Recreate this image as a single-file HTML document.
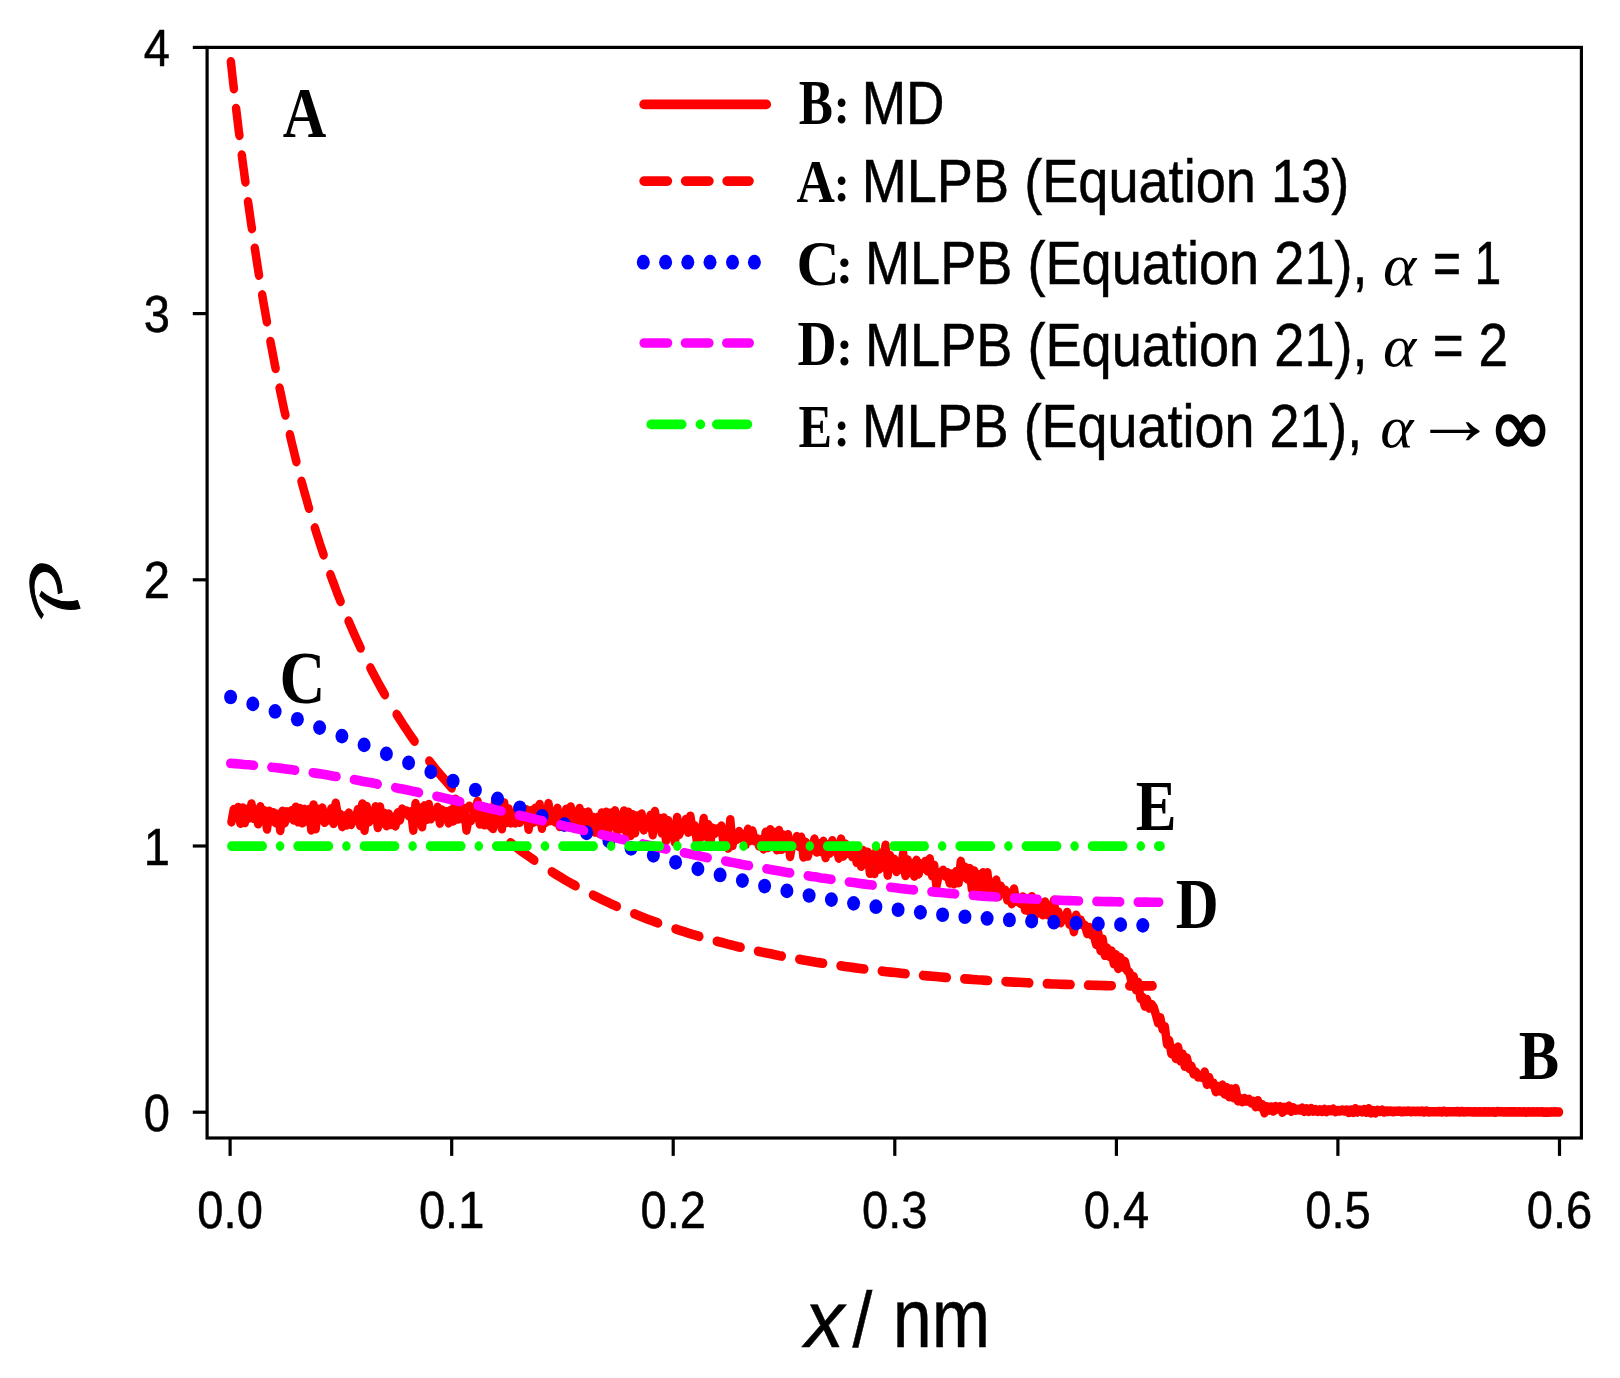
<!DOCTYPE html>
<html><head><meta charset="utf-8"><title>P(x) profile</title>
<style>html,body{margin:0;padding:0;background:#fff}svg{display:block}text{font-kerning:none;fill:#000}</style></head><body>
<svg width="1620" height="1378" viewBox="0 0 1620 1378">
<rect width="1620" height="1378" fill="#fff"/>
<g transform="scale(1,1.13)" fill="none" stroke-width="8.50" stroke-linecap="round" stroke-linejoin="round">
<polyline points="231.5,727.3 233.7,716.5 235.9,717.5 238.2,714.6 240.4,728.5 242.6,715.0 244.8,727.9 247.0,716.2 249.2,723.9 251.5,711.5 253.7,724.1 255.9,718.8 258.1,729.0 260.3,714.0 262.5,723.7 264.8,717.6 267.0,733.6 269.2,717.9 271.4,726.3 273.6,719.3 275.8,728.0 278.1,720.6 280.3,734.9 282.5,718.0 284.7,728.2 286.9,718.5 289.1,723.8 291.4,717.5 293.6,725.5 295.8,714.4 298.0,727.2 300.2,715.6 302.4,728.1 304.7,716.3 306.9,726.5 309.1,716.4 311.3,734.4 313.5,712.4 315.7,733.3 318.0,716.2 320.2,721.5 322.4,715.0 324.6,727.7 326.8,720.3 329.0,725.5 331.3,715.8 333.5,728.6 335.7,710.8 337.9,721.5 340.1,720.7 342.3,731.5 344.6,722.1 346.8,730.0 349.0,719.6 351.2,729.6 353.4,722.4 355.6,725.9 357.9,716.4 360.1,730.4 362.3,711.5 364.5,734.7 366.7,713.7 368.9,727.2 371.2,725.0 373.4,723.9 375.6,714.0 377.8,732.2 380.0,714.1 382.2,728.2 384.5,719.7 386.7,730.8 388.9,720.5 391.1,729.5 393.3,723.2 395.5,730.9 397.8,719.4 400.0,725.7 402.2,716.0 404.4,719.6 406.6,717.8 408.8,721.9 411.1,718.3 413.3,734.6 415.5,711.2 417.7,724.5 419.9,715.1 422.1,731.6 424.4,713.2 426.6,725.1 428.8,712.0 431.0,724.5 433.2,719.4 435.4,722.1 437.7,714.4 439.9,728.4 442.1,716.9 444.3,722.5 446.5,718.2 448.7,728.2 451.0,717.0 453.2,726.4 455.4,707.4 457.6,724.7 459.8,716.4 462.0,724.5 464.3,715.5 466.5,734.6 468.7,724.1 470.9,726.2 473.1,722.4 475.3,716.6 477.6,709.2 479.8,729.1 482.0,714.3 484.2,729.9 486.4,717.6 488.6,724.4 490.9,719.2 493.1,726.5 495.3,707.4 497.5,728.9 499.7,715.8 501.9,733.4 504.2,710.7 506.4,727.8 508.6,715.8 510.8,728.2 513.0,720.2 515.3,728.2 517.5,714.7 519.7,727.7 521.9,718.7 524.1,722.7 526.3,716.6 528.6,733.9 530.8,717.6 533.0,727.8 535.2,715.4 537.4,726.7 539.6,712.0 541.9,732.9 544.1,718.8 546.3,727.6 548.5,711.2 550.7,726.2 552.9,718.8 555.2,727.4 557.4,715.4 559.6,731.3 561.8,721.4 564.0,725.4 566.2,716.3 568.5,724.9 570.7,714.2 572.9,731.9 575.1,718.6 577.3,732.0 579.5,715.5 581.8,724.8 584.0,719.3 586.2,729.4 588.4,718.7 590.6,729.0 592.8,723.2 595.1,736.3 597.3,723.6 599.5,737.5 601.7,719.5 603.9,733.8 606.1,718.8 608.4,734.5 610.6,719.8 612.8,730.3 615.0,717.6 617.2,734.7 619.4,721.9 621.7,733.1 623.9,717.8 626.1,735.8 628.3,718.8 630.5,739.3 632.7,721.1 635.0,736.9 637.2,722.1 639.4,730.1 641.6,720.3 643.8,734.4 646.0,729.2 648.3,730.9 650.5,721.5 652.7,738.6 654.9,718.2 657.1,732.3 659.3,724.3 661.6,736.9 663.8,723.9 666.0,743.7 668.2,726.3 670.4,737.9 672.6,734.6 674.9,745.3 677.1,723.5 679.3,738.4 681.5,732.7 683.7,732.9 685.9,725.2 688.2,736.4 690.4,722.3 692.6,735.3 694.8,730.8 697.0,745.4 699.2,735.8 701.5,740.4 703.7,724.4 705.9,740.0 708.1,729.8 710.3,745.7 712.5,732.9 714.8,737.4 717.0,733.7 719.2,735.3 721.4,731.0 723.6,747.1 725.8,736.3 728.1,750.5 730.3,725.4 732.5,748.1 734.7,738.3 736.9,742.6 739.1,735.9 741.4,741.6 743.6,738.5 745.8,747.1 748.0,733.9 750.2,743.8 752.4,735.4 754.7,744.0 756.9,742.3 759.1,748.6 761.3,743.0 763.5,751.2 765.7,736.5 768.0,750.0 770.2,734.3 772.4,747.6 774.6,736.7 776.8,751.9 779.0,735.0 781.3,751.6 783.5,739.1 785.7,750.2 787.9,738.7 790.1,757.9 792.4,745.2 794.6,748.1 796.8,740.4 799.0,749.0 801.2,740.9 803.4,758.3 805.7,745.5 807.9,757.5 810.1,749.2 812.3,750.5 814.5,742.6 816.7,754.0 819.0,746.8 821.2,753.4 823.4,744.6 825.6,758.9 827.8,747.6 830.0,754.9 832.3,744.0 834.5,750.1 836.7,751.5 838.9,759.4 841.1,742.6 843.3,757.5 845.6,747.1 847.8,755.1 850.0,749.6 852.2,758.0 854.4,749.4 856.6,763.1 858.9,753.6 861.1,766.5 863.3,752.8 865.5,764.3 867.7,754.3 869.9,772.8 872.2,756.6 874.4,772.9 876.6,752.5 878.8,769.1 881.0,758.2 883.2,767.3 885.5,748.0 887.7,774.4 889.9,757.0 892.1,767.8 894.3,760.4 896.5,771.2 898.8,762.6 901.0,769.2 903.2,755.3 905.4,774.8 907.6,761.1 909.8,772.0 912.1,764.4 914.3,775.3 916.5,761.4 918.7,773.4 920.9,764.7 923.1,768.3 925.4,762.4 927.6,770.7 929.8,760.1 932.0,774.9 934.2,765.8 936.4,784.2 938.7,774.2 940.9,772.5 943.1,770.2 945.3,775.2 947.5,772.4 949.7,781.4 952.0,773.5 954.2,782.1 956.4,771.3 958.6,781.1 960.8,762.3 963.0,775.9 965.3,767.6 967.5,777.9 969.7,768.7 971.9,786.8 974.1,770.8 976.3,788.3 978.6,774.0 980.8,790.0 983.0,772.4 985.2,789.1 987.4,772.4 989.6,790.3 991.9,783.4 994.1,783.9 996.3,778.9 998.5,793.3 1000.7,784.2 1002.9,790.3 1005.2,787.9 1007.4,796.4 1009.6,790.5 1011.8,799.7 1014.0,786.8 1016.2,797.5 1018.5,797.8 1020.7,799.4 1022.9,793.8 1025.1,805.2 1027.3,799.1 1029.5,806.7 1031.8,793.6 1034.0,812.7 1036.2,798.5 1038.4,807.6 1040.6,799.9 1042.8,809.5 1045.1,798.2 1047.3,809.5 1049.5,807.7 1051.7,808.2 1053.9,796.8 1056.1,814.5 1058.4,807.1 1060.6,816.6 1062.8,811.6 1065.0,813.4 1067.2,807.5 1069.5,817.9 1071.7,814.6 1073.9,824.5 1076.1,809.9 1078.3,816.2 1080.5,814.1 1082.8,818.4 1085.0,819.0 1087.2,826.0 1089.4,820.8 1091.6,827.2 1093.8,827.4 1096.1,835.7 1098.3,825.6 1100.5,841.1 1102.7,831.1 1104.9,845.4 1107.1,839.0 1109.4,846.3 1111.6,841.7 1113.8,852.8 1116.0,845.0 1118.2,857.0 1120.4,847.4 1122.7,855.6 1124.9,851.0 1127.1,858.8 1129.3,860.5 1131.5,868.5 1133.7,864.3 1136.0,875.8 1138.2,869.3 1140.4,883.5 1142.6,882.7 1144.8,890.3 1147.0,884.6 1149.3,892.0 1151.5,888.9 1153.7,891.5 1155.9,897.9 1158.1,905.1 1160.3,900.7 1162.6,910.8 1164.8,908.6 1167.0,924.0 1169.2,920.9 1171.4,932.4 1173.6,928.0 1175.9,936.7 1178.1,926.7 1180.3,938.7 1182.5,932.8 1184.7,943.5 1186.9,936.3 1189.2,945.4 1191.4,943.6 1193.6,950.3 1195.8,948.7 1198.0,953.0 1200.2,952.7 1202.5,953.6 1204.7,948.7 1206.9,959.6 1209.1,953.5 1211.3,959.2 1213.5,958.7 1215.8,966.0 1218.0,961.6 1220.2,965.4 1222.4,960.3 1224.6,968.0 1226.8,962.5 1229.1,970.5 1231.3,963.8 1233.5,971.3 1235.7,963.4 1237.9,974.2 1240.1,972.2 1242.4,975.0 1244.6,972.1 1246.8,974.3 1249.0,973.0 1251.2,975.9 1253.4,974.6 1255.7,979.4 1257.9,974.1 1260.1,979.4 1262.3,977.7 1264.5,984.7 1266.7,979.4 1269.0,982.4 1271.2,979.6 1273.4,983.2 1275.6,979.3 1277.8,981.2 1280.0,979.5 1282.3,984.3 1284.5,979.9 1286.7,982.2 1288.9,978.9 1291.1,983.4 1293.3,980.4 1295.6,982.4 1297.8,981.7 1300.0,982.3 1302.2,980.8 1304.4,983.5 1306.6,981.5 1308.9,983.5 1311.1,981.1 1313.3,983.3 1315.5,982.0 1317.7,983.5 1319.9,982.1 1322.2,983.6 1324.4,981.9 1326.6,983.7 1328.8,982.2 1331.0,982.9 1333.2,981.6 1335.5,983.7 1337.7,982.8 1339.9,983.2 1342.1,982.4 1344.3,983.2 1346.6,982.3 1348.8,984.5 1351.0,982.3 1353.2,984.4 1355.4,981.2 1357.6,984.0 1359.9,982.4 1362.1,983.9 1364.3,981.8 1366.5,984.3 1368.7,981.3 1370.9,984.8 1373.2,982.9 1375.4,984.8 1377.6,982.6 1379.8,983.6 1382.0,982.5 1384.2,984.1 1386.5,983.2 1388.7,983.6 1390.9,983.2 1393.1,983.8 1395.3,983.4 1397.5,983.4 1399.8,983.2 1402.0,983.9 1404.2,983.4 1406.4,983.6 1408.6,983.2 1410.8,983.8 1413.1,983.4 1415.3,983.7 1417.5,983.4 1419.7,983.7 1421.9,983.3 1424.1,984.1 1426.4,983.3 1428.6,984.0 1430.8,983.8 1433.0,983.9 1435.2,983.9 1437.4,983.9 1439.7,983.7 1441.9,984.0 1444.1,983.4 1446.3,984.1 1448.5,983.8 1450.7,983.9 1453.0,983.8 1455.2,983.9 1457.4,983.6 1459.6,984.1 1461.8,983.7 1464.0,984.1 1466.3,983.9 1468.5,983.9 1470.7,983.8 1472.9,984.0 1475.1,984.0 1477.3,984.1 1479.6,983.8 1481.8,984.1 1484.0,984.0 1486.2,984.0 1488.4,983.8 1490.6,984.1 1492.9,983.9 1495.1,984.3 1497.3,983.7 1499.5,983.9 1501.7,983.8 1503.9,984.1 1506.2,983.8 1508.4,984.0 1510.6,983.9 1512.8,984.0 1515.0,984.0 1517.2,984.1 1519.5,983.9 1521.7,984.1 1523.9,983.9 1526.1,984.2 1528.3,983.9 1530.5,984.1 1532.8,984.0 1535.0,984.1 1537.2,984.0 1539.4,984.1 1541.6,983.9 1543.8,984.2 1546.1,984.0 1548.3,984.2 1550.5,984.0 1552.7,984.1 1554.9,984.0 1557.1,984.1 1559.0,984.1" stroke="#ff0000"/>
<path d="M230.9,54.7 L231.5,59.7 L232.1,64.6 L232.7,69.5 L233.3,74.3 L233.9,78.5 M236.1,96.0 L237.0,102.5 L237.6,107.0 L238.2,111.5 L238.8,116.0 L239.4,119.8 M241.8,137.2 L242.5,142.0 L243.1,146.3 L243.8,150.4 L244.4,154.6 L245.0,158.7 L245.4,161.0 M248.0,178.5 L248.7,182.6 L249.9,190.3 L251.1,197.9 L251.9,202.3 M254.8,219.7 L256.1,227.0 L257.3,234.0 L258.5,240.9 L259.0,243.5 M262.2,261.0 L263.4,267.4 L264.7,273.7 L265.9,280.0 L266.9,284.8 M270.4,302.2 L271.4,306.9 L272.7,312.7 L273.9,318.3 L275.1,323.9 L275.6,326.0 M279.6,343.5 L280.7,348.0 L281.9,353.1 L283.1,358.2 L284.3,363.2 L285.4,367.3 M289.9,384.7 L291.1,389.4 L292.3,393.9 L293.6,398.4 L294.8,402.8 L296.0,407.2 L296.4,408.5 M301.5,426.0 L302.8,430.1 L304.6,436.1 L306.5,441.9 L308.3,447.7 L309.0,449.8 M314.9,467.2 L316.3,471.3 L318.2,476.4 L320.0,481.5 L321.9,486.5 L323.6,491.0 M330.4,508.5 L332.3,513.1 L334.2,517.5 L336.0,521.9 L337.8,526.2 L339.7,530.4 L340.6,532.3 M348.6,549.7 L350.8,554.1 L353.2,559.1 L355.7,564.0 L358.1,568.7 L360.6,573.4 L360.7,573.5 M370.4,591.0 L372.9,595.4 L375.4,599.5 L377.8,603.5 L380.9,608.5 L384.0,613.4 L384.9,614.8 M396.7,632.2 L400.0,636.8 L403.0,641.0 L406.1,645.1 L409.2,649.2 L412.9,653.9 L414.6,656.0 M429.3,673.5 L433.2,677.8 L436.8,681.9 L441.1,686.4 L445.5,690.9 L449.8,695.2 L451.8,697.3 M469.3,713.5 L473.7,717.4 L478.0,721.0 L482.3,724.6 L486.7,728.0 L491.0,731.4 L493.1,733.1 M510.5,745.8 L514.9,748.8 L519.2,751.7 L523.5,754.6 L527.9,757.3 L532.2,760.0 L534.3,761.3 M551.8,771.5 L556.1,773.9 L560.4,776.2 L564.7,778.5 L569.1,780.7 L573.4,782.8 L575.6,783.9 M593.0,792.1 L597.3,794.0 L601.6,795.9 L605.9,797.7 L610.2,799.5 L614.6,801.2 L616.8,802.1 M634.3,808.7 L638.5,810.2 L642.8,811.7 L647.1,813.2 L651.4,814.6 L655.8,816.0 L658.1,816.8 M675.5,822.1 L679.7,823.3 L684.0,824.5 L688.3,825.7 L692.6,826.9 L697.0,828.0 L699.3,828.7 M716.8,833.0 L720.9,833.9 L725.2,834.9 L729.5,835.9 L733.8,836.8 L738.1,837.8 L740.6,838.3 M758.0,841.8 L762.1,842.6 L766.4,843.4 L770.7,844.1 L775.0,844.9 L779.3,845.7 L781.8,846.1 M799.3,848.9 L803.3,849.6 L807.6,850.2 L811.9,850.8 L816.2,851.5 L820.5,852.1 L823.1,852.4 M840.5,854.7 L845.1,855.3 L849.4,855.8 L853.8,856.3 L858.1,856.8 L862.4,857.3 L864.3,857.5 M881.8,859.4 L886.3,859.9 L890.6,860.3 L895.0,860.7 L899.3,861.1 L903.6,861.5 L905.6,861.7 M923.0,863.2 L927.5,863.6 L931.8,863.9 L936.1,864.2 L940.5,864.6 L944.8,864.9 L946.8,865.0 M964.3,866.3 L968.7,866.5 L973.0,866.8 L977.3,867.1 L981.7,867.3 L986.0,867.6 L988.1,867.7 M1005.5,868.7 L1009.9,868.9 L1014.2,869.1 L1018.5,869.3 L1022.9,869.5 L1027.2,869.7 L1029.3,869.8 M1046.8,870.5 L1051.1,870.7 L1055.4,870.8 L1059.7,871.0 L1064.1,871.1 L1068.4,871.3 L1070.6,871.3 M1088.0,871.8 L1092.3,871.9 L1096.6,872.0 L1100.9,872.1 L1105.2,872.2 L1109.6,872.3 L1111.8,872.3 M1129.3,872.5 L1133.5,872.5 L1137.8,872.5 L1142.1,872.5 L1146.4,872.5 L1150.8,872.5 L1152.6,872.5" stroke="#ff0000"/>
<ellipse cx="230.6" cy="616.8" rx="6.5" ry="6.5" fill="#0000ff"/>
<ellipse cx="252.8" cy="622.9" rx="6.5" ry="6.5" fill="#0000ff"/>
<ellipse cx="275.1" cy="629.6" rx="6.5" ry="6.5" fill="#0000ff"/>
<ellipse cx="297.4" cy="636.5" rx="6.5" ry="6.5" fill="#0000ff"/>
<ellipse cx="319.6" cy="643.9" rx="6.5" ry="6.5" fill="#0000ff"/>
<ellipse cx="341.9" cy="651.4" rx="6.5" ry="6.5" fill="#0000ff"/>
<ellipse cx="364.1" cy="659.2" rx="6.5" ry="6.5" fill="#0000ff"/>
<ellipse cx="386.4" cy="667.1" rx="6.5" ry="6.5" fill="#0000ff"/>
<ellipse cx="408.6" cy="675.1" rx="6.5" ry="6.5" fill="#0000ff"/>
<ellipse cx="430.9" cy="683.1" rx="6.5" ry="6.5" fill="#0000ff"/>
<ellipse cx="453.1" cy="691.2" rx="6.5" ry="6.5" fill="#0000ff"/>
<ellipse cx="475.4" cy="699.1" rx="6.5" ry="6.5" fill="#0000ff"/>
<ellipse cx="497.6" cy="707.0" rx="6.5" ry="6.5" fill="#0000ff"/>
<ellipse cx="519.9" cy="714.8" rx="6.5" ry="6.5" fill="#0000ff"/>
<ellipse cx="542.1" cy="722.4" rx="6.5" ry="6.5" fill="#0000ff"/>
<ellipse cx="564.4" cy="729.8" rx="6.5" ry="6.5" fill="#0000ff"/>
<ellipse cx="586.6" cy="737.0" rx="6.5" ry="6.5" fill="#0000ff"/>
<ellipse cx="608.9" cy="744.0" rx="6.5" ry="6.5" fill="#0000ff"/>
<ellipse cx="631.1" cy="750.7" rx="6.5" ry="6.5" fill="#0000ff"/>
<ellipse cx="653.4" cy="757.0" rx="6.5" ry="6.5" fill="#0000ff"/>
<ellipse cx="675.6" cy="763.1" rx="6.5" ry="6.5" fill="#0000ff"/>
<ellipse cx="697.9" cy="768.9" rx="6.5" ry="6.5" fill="#0000ff"/>
<ellipse cx="720.1" cy="774.3" rx="6.5" ry="6.5" fill="#0000ff"/>
<ellipse cx="742.4" cy="779.3" rx="6.5" ry="6.5" fill="#0000ff"/>
<ellipse cx="764.6" cy="784.1" rx="6.5" ry="6.5" fill="#0000ff"/>
<ellipse cx="786.9" cy="788.4" rx="6.5" ry="6.5" fill="#0000ff"/>
<ellipse cx="809.1" cy="792.5" rx="6.5" ry="6.5" fill="#0000ff"/>
<ellipse cx="831.4" cy="796.1" rx="6.5" ry="6.5" fill="#0000ff"/>
<ellipse cx="853.6" cy="799.4" rx="6.5" ry="6.5" fill="#0000ff"/>
<ellipse cx="875.9" cy="802.4" rx="6.5" ry="6.5" fill="#0000ff"/>
<ellipse cx="898.1" cy="805.1" rx="6.5" ry="6.5" fill="#0000ff"/>
<ellipse cx="920.4" cy="807.4" rx="6.5" ry="6.5" fill="#0000ff"/>
<ellipse cx="942.6" cy="809.5" rx="6.5" ry="6.5" fill="#0000ff"/>
<ellipse cx="964.9" cy="811.3" rx="6.5" ry="6.5" fill="#0000ff"/>
<ellipse cx="987.1" cy="812.8" rx="6.5" ry="6.5" fill="#0000ff"/>
<ellipse cx="1009.4" cy="814.1" rx="6.5" ry="6.5" fill="#0000ff"/>
<ellipse cx="1031.6" cy="815.2" rx="6.5" ry="6.5" fill="#0000ff"/>
<ellipse cx="1053.8" cy="816.1" rx="6.5" ry="6.5" fill="#0000ff"/>
<ellipse cx="1076.1" cy="816.9" rx="6.5" ry="6.5" fill="#0000ff"/>
<ellipse cx="1098.3" cy="817.6" rx="6.5" ry="6.5" fill="#0000ff"/>
<ellipse cx="1120.6" cy="818.3" rx="6.5" ry="6.5" fill="#0000ff"/>
<ellipse cx="1142.8" cy="818.9" rx="6.5" ry="6.5" fill="#0000ff"/>
<path d="M230.2,675.5 L234.8,675.8 L239.5,676.1 L244.1,676.5 L248.8,676.8 L253.5,677.2 L254.0,677.3 M271.4,678.9 L276.7,679.5 L281.4,680.0 L286.0,680.5 L290.7,681.0 L295.2,681.6 M312.7,683.8 L317.0,684.4 L321.7,685.0 L326.3,685.7 L331.0,686.4 L335.7,687.1 L336.5,687.2 M353.9,689.9 L358.9,690.7 L363.6,691.5 L368.2,692.2 L372.9,693.0 L377.5,693.8 L377.7,693.9 M395.2,697.0 L399.2,697.7 L403.9,698.5 L408.6,699.4 L413.2,700.3 L417.9,701.1 L419.0,701.4 M436.4,704.7 L441.1,705.6 L445.8,706.5 L450.4,707.5 L455.1,708.4 L459.7,709.3 L460.2,709.4 M477.7,712.9 L483.0,714.0 L487.7,715.0 L492.3,715.9 L497.0,716.9 L501.5,717.8 M518.9,721.5 L523.3,722.4 L528.0,723.3 L532.6,724.3 L537.3,725.3 L541.9,726.2 L542.7,726.4 M560.2,730.0 L565.2,731.1 L569.9,732.0 L574.5,733.0 L579.2,734.0 L583.8,734.9 L584.0,735.0 M601.4,738.5 L605.5,739.4 L610.2,740.3 L614.8,741.2 L619.5,742.2 L624.1,743.1 L625.2,743.3 M642.7,746.8 L647.4,747.7 L652.1,748.6 L656.7,749.5 L661.4,750.4 L666.0,751.3 L666.5,751.4 M683.9,754.7 L689.3,755.6 L693.9,756.5 L698.6,757.3 L703.2,758.2 L707.7,759.0 M725.2,762.0 L729.6,762.8 L734.3,763.6 L738.9,764.4 L743.6,765.2 L748.2,765.9 L749.0,766.0 M766.4,768.9 L771.5,769.6 L776.1,770.4 L780.8,771.1 L785.5,771.8 L790.1,772.5 L790.2,772.5 M807.7,775.0 L811.8,775.6 L816.5,776.2 L821.1,776.9 L825.8,777.5 L830.4,778.1 L831.5,778.2 M848.9,780.5 L853.7,781.0 L858.3,781.6 L863.0,782.2 L867.7,782.7 L872.3,783.2 L872.7,783.3 M890.2,785.2 L895.6,785.7 L900.2,786.2 L904.9,786.7 L909.5,787.1 L914.0,787.5 M931.4,789.1 L935.9,789.5 L940.6,789.9 L945.2,790.3 L949.9,790.6 L954.5,791.0 L955.2,791.1 M972.7,792.3 L977.8,792.7 L982.4,793.0 L987.1,793.3 L991.7,793.5 L996.4,793.8 L996.5,793.8 M1013.9,794.8 L1018.1,795.0 L1022.8,795.2 L1027.4,795.4 L1032.1,795.6 L1036.7,795.8 L1037.7,795.9 M1055.2,796.5 L1060.0,796.7 L1064.6,796.9 L1069.3,797.0 L1073.9,797.1 L1078.6,797.3 L1079.0,797.3 M1096.4,797.7 L1101.9,797.8 L1106.5,797.9 L1111.2,797.9 L1115.8,798.0 L1120.2,798.1 M1137.7,798.3 L1142.2,798.3 L1146.8,798.3 L1151.5,798.4 L1156.1,798.4 L1159.2,798.4" stroke="#ff00ff"/>
<path d="M231.4,748.8 L236.1,748.8 L240.7,748.8 L245.4,748.8 L250.0,748.8 L254.7,748.8 L259.3,748.8 L262.7,748.8 M280.1,748.8h0.01 M297.6,748.8 L303.6,748.8 L308.3,748.8 L312.9,748.8 L317.6,748.8 L322.2,748.8 L326.9,748.8 L328.9,748.8 M346.4,748.8h0.01 M363.8,748.8 L368.8,748.8 L373.5,748.8 L378.1,748.8 L382.8,748.8 L387.4,748.8 L392.1,748.8 L395.1,748.8 M412.6,748.8h0.01 M430.0,748.8 L434.0,748.8 L438.7,748.8 L443.3,748.8 L448.0,748.8 L452.6,748.8 L457.3,748.8 L461.3,748.8 M478.8,748.8h0.01 M496.2,748.8 L501.5,748.8 L506.2,748.8 L510.9,748.8 L515.5,748.8 L520.2,748.8 L524.8,748.8 L527.5,748.8 M545.0,748.8h0.01 M562.4,748.8 L566.8,748.8 L571.4,748.8 L576.1,748.8 L580.7,748.8 L585.4,748.8 L590.0,748.8 L593.7,748.8 M611.1,748.8h0.01 M628.6,748.8 L634.3,748.8 L638.9,748.8 L643.6,748.8 L648.3,748.8 L652.9,748.8 L657.6,748.8 L659.9,748.8 M677.3,748.8h0.01 M694.8,748.8 L699.5,748.8 L704.2,748.8 L708.8,748.8 L713.5,748.8 L718.1,748.8 L722.8,748.8 L726.1,748.8 M743.5,748.8h0.01 M761.0,748.8 L767.0,748.8 L771.7,748.8 L776.3,748.8 L781.0,748.8 L785.7,748.8 L790.3,748.8 L792.3,748.8 M809.8,748.8h0.01 M827.2,748.8 L832.2,748.8 L836.9,748.8 L841.6,748.8 L846.2,748.8 L850.9,748.8 L855.5,748.8 L858.5,748.8 M876.0,748.8h0.01 M893.4,748.8 L897.4,748.8 L902.1,748.8 L906.8,748.8 L911.4,748.8 L916.1,748.8 L920.7,748.8 L924.7,748.8 M942.2,748.8h0.01 M959.6,748.8 L965.0,748.8 L969.6,748.8 L974.3,748.8 L979.0,748.8 L983.6,748.8 L988.3,748.8 L990.9,748.8 M1008.4,748.8h0.01 M1025.8,748.8 L1030.2,748.8 L1034.8,748.8 L1039.5,748.8 L1044.2,748.8 L1048.8,748.8 L1053.5,748.8 L1057.1,748.8 M1074.6,748.8h0.01 M1092.0,748.8 L1097.7,748.8 L1102.4,748.8 L1107.0,748.8 L1111.7,748.8 L1116.4,748.8 L1121.0,748.8 L1123.3,748.8 M1140.8,748.8h0.01 M1158.2,748.8 L1160.6,748.8" stroke="#00ff00"/>
</g>
<g stroke="#000" stroke-width="3.2" fill="none">
<rect x="207.1" y="47.4" width="1374.3" height="1090.6"/>
<path d="M192.8,1112.2 H207.1"/>
<path d="M192.8,846.0 H207.1"/>
<path d="M192.8,579.8 H207.1"/>
<path d="M192.8,313.6 H207.1"/>
<path d="M192.8,47.4 H207.1"/>
<path d="M230.1,1138 V1155.9"/>
<path d="M451.7,1138 V1155.9"/>
<path d="M673.2,1138 V1155.9"/>
<path d="M894.8,1138 V1155.9"/>
<path d="M1116.4,1138 V1155.9"/>
<path d="M1337.9,1138 V1155.9"/>
<path d="M1559.5,1138 V1155.9"/>
</g>
<text transform="translate(170.0,1130.70) scale(0.906,1)" text-anchor="end" font-family="'Liberation Sans',sans-serif" font-size="52" stroke="#000" stroke-width="0.5">0</text>
<text transform="translate(170.0,864.50) scale(0.906,1)" text-anchor="end" font-family="'Liberation Sans',sans-serif" font-size="52" stroke="#000" stroke-width="0.5">1</text>
<text transform="translate(170.0,598.30) scale(0.906,1)" text-anchor="end" font-family="'Liberation Sans',sans-serif" font-size="52" stroke="#000" stroke-width="0.5">2</text>
<text transform="translate(170.0,332.10) scale(0.906,1)" text-anchor="end" font-family="'Liberation Sans',sans-serif" font-size="52" stroke="#000" stroke-width="0.5">3</text>
<text transform="translate(170.0,65.90) scale(0.906,1)" text-anchor="end" font-family="'Liberation Sans',sans-serif" font-size="52" stroke="#000" stroke-width="0.5">4</text>
<text transform="translate(197.35,1228.3) scale(0.906,1)" font-family="'Liberation Sans',sans-serif" font-size="52" stroke="#000" stroke-width="0.5">0.0</text>
<text transform="translate(418.92,1228.3) scale(0.906,1)" font-family="'Liberation Sans',sans-serif" font-size="52" stroke="#000" stroke-width="0.5">0.1</text>
<text transform="translate(640.49,1228.3) scale(0.906,1)" font-family="'Liberation Sans',sans-serif" font-size="52" stroke="#000" stroke-width="0.5">0.2</text>
<text transform="translate(862.06,1228.3) scale(0.906,1)" font-family="'Liberation Sans',sans-serif" font-size="52" stroke="#000" stroke-width="0.5">0.3</text>
<text transform="translate(1083.63,1228.3) scale(0.906,1)" font-family="'Liberation Sans',sans-serif" font-size="52" stroke="#000" stroke-width="0.5">0.4</text>
<text transform="translate(1305.20,1228.3) scale(0.906,1)" font-family="'Liberation Sans',sans-serif" font-size="52" stroke="#000" stroke-width="0.5">0.5</text>
<text transform="translate(1526.77,1228.3) scale(0.906,1)" font-family="'Liberation Sans',sans-serif" font-size="52" stroke="#000" stroke-width="0.5">0.6</text>
<g fill="none" stroke-width="9.6" stroke-linecap="round">
<path d="M644.1,104.4 H766.3" stroke="#ff0000"/>
<path d="M644.1,181.1 H749" stroke="#ff0000" stroke-dasharray="23.3 18.2"/>
<path d="M644.2,343 H749.2" stroke="#ff00ff" stroke-dasharray="23.3 18"/>
<path d="M651.2,424.4 H747.4" stroke="#00ff00" stroke-dasharray="30.6 18.6 0 16.4"/>
</g>
<ellipse cx="643.3" cy="262.2" rx="6.5" ry="7.4" fill="#0000ff"/>
<ellipse cx="665.6" cy="262.2" rx="6.5" ry="7.4" fill="#0000ff"/>
<ellipse cx="687.8" cy="262.2" rx="6.5" ry="7.4" fill="#0000ff"/>
<ellipse cx="710" cy="262.2" rx="6.5" ry="7.4" fill="#0000ff"/>
<ellipse cx="732.5" cy="262.2" rx="6.5" ry="7.4" fill="#0000ff"/>
<ellipse cx="754.4" cy="262.2" rx="6.5" ry="7.4" fill="#0000ff"/>
<text transform="translate(798.75,123.52) scale(0.8180,1)" font-family="'Liberation Serif',serif" font-weight="bold" font-size="62.64" >B</text>
<text transform="translate(796.38,202.10) scale(0.8564,1)" font-family="'Liberation Serif',serif" font-weight="bold" font-size="62.11" >A</text>
<text transform="translate(796.49,284.59) scale(0.9491,1)" font-family="'Liberation Serif',serif" font-weight="bold" font-size="62.81" >C</text>
<text transform="translate(797.45,365.48) scale(0.8671,1)" font-family="'Liberation Serif',serif" font-weight="bold" font-size="62.43" >D</text>
<text transform="translate(798.54,446.70) scale(0.8149,1)" font-family="'Liberation Serif',serif" font-weight="bold" font-size="61.70" >E</text>
<text transform="translate(833.84,122.54) scale(0.8964,1)" font-family="'Liberation Serif',serif" font-weight="bold" font-size="53.84" >:</text>
<text transform="translate(833.84,201.14) scale(0.8964,1)" font-family="'Liberation Serif',serif" font-weight="bold" font-size="53.84" >:</text>
<text transform="translate(835.99,283.34) scale(0.9538,1)" font-family="'Liberation Serif',serif" font-weight="bold" font-size="53.84" >:</text>
<text transform="translate(836.29,364.54) scale(0.9309,1)" font-family="'Liberation Serif',serif" font-weight="bold" font-size="53.84" >:</text>
<text transform="translate(833.84,445.54) scale(0.8964,1)" font-family="'Liberation Serif',serif" font-weight="bold" font-size="53.84" >:</text>
<text transform="translate(861.73,123.50) scale(0.8802,1)" font-family="'Liberation Sans',sans-serif"  font-size="60.50" stroke="#000" stroke-width="0.5">MD</text>
<text transform="translate(861.66,202.10) scale(0.8950,1)" font-family="'Liberation Sans',sans-serif"  font-size="60.50" stroke="#000" stroke-width="0.5">MLPB (Equation 13)</text>
<text transform="translate(864.96,284.30) scale(0.8951,1)" font-family="'Liberation Sans',sans-serif"  font-size="60.50" stroke="#000" stroke-width="0.5">MLPB (Equation 21),</text>
<text transform="translate(864.96,365.50) scale(0.8951,1)" font-family="'Liberation Sans',sans-serif"  font-size="60.50" stroke="#000" stroke-width="0.5">MLPB (Equation 21),</text>
<text transform="translate(861.88,446.50) scale(0.8911,1)" font-family="'Liberation Sans',sans-serif"  font-size="60.50" stroke="#000" stroke-width="0.5">MLPB (Equation 21),</text>
<text transform="translate(1382.91,284.50) scale(1.0782,1)" font-family="'Liberation Serif',serif" font-style="italic" font-size="58.72" >α</text>
<text transform="translate(1382.91,365.70) scale(1.0782,1)" font-family="'Liberation Serif',serif" font-style="italic" font-size="58.72" >α</text>
<text transform="translate(1380.31,446.70) scale(1.0782,1)" font-family="'Liberation Serif',serif" font-style="italic" font-size="58.72" >α</text>
<text transform="translate(1433.05,284.30) scale(0.7950,1)" font-family="'Liberation Sans',sans-serif"  font-size="60.50" stroke="#000" stroke-width="0.5">= 1</text>
<text transform="translate(1432.81,365.50) scale(0.8773,1)" font-family="'Liberation Sans',sans-serif"  font-size="60.50" stroke="#000" stroke-width="0.5">= 2</text>
<text transform="translate(1413.20,444.45) scale(1.0847,1)" font-family="'Liberation Sans',sans-serif"  font-size="76.80" >→</text>
<text transform="translate(1488.36,455.42) scale(0.9516,1)" font-family="'DejaVu Sans',sans-serif"  font-size="81.60" stroke="#000" stroke-width="1.8">∞</text>
<text transform="translate(282.71,136.70) scale(0.8342,1)" font-family="'Liberation Serif',serif" font-weight="bold" font-size="72.26" >A</text>
<text transform="translate(279.50,703.48) scale(0.8597,1)" font-family="'Liberation Serif',serif" font-weight="bold" font-size="73.82" >C</text>
<text transform="translate(1135.66,830.00) scale(0.8572,1)" font-family="'Liberation Serif',serif" font-weight="bold" font-size="71.32" >E</text>
<text transform="translate(1175.66,927.66) scale(0.8342,1)" font-family="'Liberation Serif',serif" font-weight="bold" font-size="71.11" >D</text>
<text transform="translate(1518.69,1079.20) scale(0.8696,1)" font-family="'Liberation Serif',serif" font-weight="bold" font-size="69.64" >B</text>
<text transform="translate(804.66,1347.30) scale(0.9827,1)" font-family="'Liberation Sans',sans-serif" font-style="italic" font-size="80.25" stroke="#000" stroke-width="0.5">x</text>
<text transform="translate(852.50,1347.24) scale(0.9198,1)" font-family="'Liberation Sans',sans-serif"  font-size="77.48" stroke="#000" stroke-width="0.5">/</text>
<text transform="translate(892.75,1347.30) scale(0.8382,1)" font-family="'Liberation Sans',sans-serif"  font-size="83.63" stroke="#000" stroke-width="0.5">nm</text>
<text transform="translate(78.64,624.77) rotate(-90) scale(1.2668,1)" font-family="'DejaVu Math TeX Gyre','DejaVu Serif',serif" font-size="62.90" stroke="#000" stroke-width="1">𝒫</text>
</svg></body></html>
